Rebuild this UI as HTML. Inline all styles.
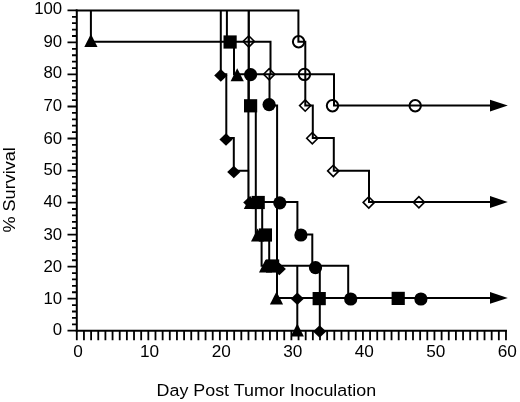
<!DOCTYPE html>
<html><head><meta charset="utf-8"><title>Survival</title>
<style>
html,body{margin:0;padding:0;background:#fff;}
body{width:520px;height:402px;overflow:hidden;font-family:"Liberation Sans",sans-serif;}
svg{display:block;will-change:transform;}
</style></head><body>
<svg width="520" height="402" viewBox="0 0 520 402">
<g font-family="Liberation Sans, sans-serif" font-size="16.8" fill="#000">
<text x="62.2" y="334.5" text-anchor="end">0</text>
<text x="62.2" y="303.7" text-anchor="end">10</text>
<text x="62.2" y="271.5" text-anchor="end">20</text>
<text x="62.2" y="239.7" text-anchor="end">30</text>
<text x="62.2" y="207.0" text-anchor="end">40</text>
<text x="62.2" y="175.1" text-anchor="end">50</text>
<text x="62.2" y="144.1" text-anchor="end">60</text>
<text x="62.2" y="110.7" text-anchor="end">70</text>
<text x="62.2" y="77.8" text-anchor="end">80</text>
<text x="62.2" y="46.8" text-anchor="end">90</text>
<text x="62.2" y="13.6" text-anchor="end">100</text>
<text x="78.1" y="356.8" font-size="17.2" text-anchor="middle">0</text>
<text x="149.6" y="356.8" font-size="17.2" text-anchor="middle">10</text>
<text x="221.2" y="356.8" font-size="17.2" text-anchor="middle">20</text>
<text x="292.7" y="356.8" font-size="17.2" text-anchor="middle">30</text>
<text x="364.2" y="356.8" font-size="17.2" text-anchor="middle">40</text>
<text x="435.8" y="356.8" font-size="17.2" text-anchor="middle">50</text>
<text x="507.3" y="356.8" font-size="17.2" text-anchor="middle">60</text>
<text x="156.6" y="396.4" font-size="17.2" textLength="219.5" lengthAdjust="spacingAndGlyphs">Day Post Tumor Inoculation</text>
<text transform="translate(15.3 232.6) rotate(-90)" x="0" y="0" font-size="17" textLength="85.5" lengthAdjust="spacingAndGlyphs">% Survival</text>
</g>
<line x1="76.8" y1="9.4" x2="76.8" y2="331.7" stroke="#000" stroke-width="2.0"/>
<line x1="75.8" y1="330.7" x2="506.97999999999996" y2="330.7" stroke="#000" stroke-width="2.0"/>
<path d="M67.5 330.70H76.8M72.0 324.29H76.8M72.0 317.89H76.8M72.0 311.48H76.8M72.0 305.08H76.8M67.5 298.67H76.8M72.0 292.26H76.8M72.0 285.86H76.8M72.0 279.45H76.8M72.0 273.05H76.8M67.5 266.64H76.8M72.0 260.23H76.8M72.0 253.83H76.8M72.0 247.42H76.8M72.0 241.02H76.8M67.5 234.61H76.8M72.0 228.20H76.8M72.0 221.80H76.8M72.0 215.39H76.8M72.0 208.99H76.8M67.5 202.58H76.8M72.0 196.17H76.8M72.0 189.77H76.8M72.0 183.36H76.8M72.0 176.96H76.8M67.5 170.55H76.8M72.0 164.14H76.8M72.0 157.74H76.8M72.0 151.33H76.8M72.0 144.93H76.8M67.5 138.52H76.8M72.0 132.11H76.8M72.0 125.71H76.8M72.0 119.30H76.8M72.0 112.90H76.8M67.5 106.49H76.8M72.0 100.08H76.8M72.0 93.68H76.8M72.0 87.27H76.8M72.0 80.87H76.8M67.5 74.46H76.8M72.0 68.05H76.8M72.0 61.65H76.8M72.0 55.24H76.8M72.0 48.84H76.8M67.5 42.43H76.8M72.0 36.02H76.8M72.0 29.62H76.8M72.0 23.21H76.8M72.0 16.81H76.8M67.5 10.40H76.8M76.80 330.7V340.3M83.95 330.7V340.3M91.11 330.7V340.3M98.26 330.7V340.3M105.41 330.7V340.3M112.56 330.7V340.3M119.72 330.7V340.3M126.87 330.7V340.3M134.02 330.7V340.3M141.18 330.7V340.3M148.33 330.7V340.3M155.48 330.7V340.3M162.64 330.7V340.3M169.79 330.7V340.3M176.94 330.7V340.3M184.09 330.7V340.3M191.25 330.7V340.3M198.40 330.7V340.3M205.55 330.7V340.3M212.71 330.7V340.3M219.86 330.7V340.3M227.01 330.7V340.3M234.17 330.7V340.3M241.32 330.7V340.3M248.47 330.7V340.3M255.62 330.7V340.3M262.78 330.7V340.3M269.93 330.7V340.3M277.08 330.7V340.3M284.24 330.7V340.3M291.39 330.7V340.3M298.54 330.7V340.3M305.70 330.7V340.3M312.85 330.7V340.3M320.00 330.7V340.3M327.15 330.7V340.3M334.31 330.7V340.3M341.46 330.7V340.3M348.61 330.7V340.3M355.77 330.7V340.3M362.92 330.7V340.3M370.07 330.7V340.3M377.23 330.7V340.3M384.38 330.7V340.3M391.53 330.7V340.3M398.69 330.7V340.3M405.84 330.7V340.3M412.99 330.7V340.3M420.14 330.7V340.3M427.30 330.7V340.3M434.45 330.7V340.3M441.60 330.7V340.3M448.76 330.7V340.3M455.91 330.7V340.3M463.06 330.7V340.3M470.21 330.7V340.3M477.37 330.7V340.3M484.52 330.7V340.3M491.67 330.7V340.3M498.83 330.7V340.3M505.98 330.7V340.3" stroke="#000" stroke-width="1.8" fill="none"/>
<path d="M76.8 10.4L298.4 10.4L298.4 41.7L305.3 41.7L305.3 74.2L334 74.2L334 105.6L492 105.6M76.8 10.4L248.9 10.4L248.9 41.7L270.5 41.7L270.5 74.2L305.3 74.2L305.3 105.6L312.8 105.6L312.8 138.0L333.8 138.0L333.8 170.8L369 170.8L369 202.0L492 202.0M76.8 10.4L90.9 10.4L90.9 41.7L234 41.7L234 74.2L248.4 74.2L248.4 202.0L255.8 202.0L255.8 234.4L261.6 234.4L261.6 265.7L277 265.7L277 297.9L297.3 297.9L297.3 330.7M76.8 10.4L226.9 10.4L226.9 41.7L248.9 41.7L248.9 105.6L255.8 105.6L255.8 202.0L262.2 202.0L262.2 234.4L269.2 234.4L269.2 265.7L319.8 265.7L319.8 297.9L492 297.9M76.8 10.4L248.6 10.4L248.6 74.2L269.5 74.2L269.5 105.6L277.1 105.6L277.1 202.0L297.4 202.0L297.4 234.4L312.3 234.4L312.3 265.7L348.2 265.7L348.2 297.9L492 297.9M76.8 10.4L220.8 10.4L220.8 74.2L226.3 74.2L226.3 138.0L233.8 138.0L233.8 170.8L248.5 170.8L248.5 202.0L277 202.0L277 265.7L297.3 265.7L297.3 297.9L319.8 297.9L319.8 330.7" stroke="#000" stroke-width="2.0" fill="none" stroke-linejoin="miter" stroke-linecap="square"/>
<path d="M490 99.69999999999999L507.8 105.6L490 111.5Z" fill="#000"/>
<path d="M490 196.1L507.8 202.0L490 207.9Z" fill="#000"/>
<path d="M490 292.0L507.8 297.9L490 303.79999999999995Z" fill="#000"/>
<circle cx="298.6" cy="41.8" r="5.7" fill="none" stroke="#000" stroke-width="2"/>
<circle cx="304.4" cy="74.4" r="5.7" fill="none" stroke="#000" stroke-width="2"/>
<circle cx="332.5" cy="105.8" r="5.7" fill="none" stroke="#000" stroke-width="2"/>
<circle cx="415.2" cy="105.7" r="5.7" fill="none" stroke="#000" stroke-width="2"/>
<path d="M243.20000000000002 41.4L248.8 35.8L254.4 41.4L248.8 47.0Z" fill="none" stroke="#000" stroke-width="1.6"/>
<path d="M263.59999999999997 74.3L269.2 68.7L274.8 74.3L269.2 79.89999999999999Z" fill="none" stroke="#000" stroke-width="1.6"/>
<path d="M299.59999999999997 105.6L305.2 100.0L310.8 105.6L305.2 111.19999999999999Z" fill="none" stroke="#000" stroke-width="1.6"/>
<path d="M306.7 138.3L312.3 132.70000000000002L317.90000000000003 138.3L312.3 143.9Z" fill="none" stroke="#000" stroke-width="1.6"/>
<path d="M327.7 170.9L333.3 165.3L338.90000000000003 170.9L333.3 176.5Z" fill="none" stroke="#000" stroke-width="1.6"/>
<path d="M363.2 202.4L368.8 196.8L374.40000000000003 202.4L368.8 208.0Z" fill="none" stroke="#000" stroke-width="1.6"/>
<path d="M413.29999999999995 202.3L418.9 196.70000000000002L424.5 202.3L418.9 207.9Z" fill="none" stroke="#000" stroke-width="1.6"/>
<path d="M214.20000000000002 75.4L220.8 69.10000000000001L227.4 75.4L220.8 81.7Z" fill="#000"/>
<path d="M219.4 139.5L226.0 133.2L232.6 139.5L226.0 145.8Z" fill="#000"/>
<path d="M227.20000000000002 172.0L233.8 165.7L240.4 172.0L233.8 178.3Z" fill="#000"/>
<path d="M243.20000000000002 202.5L249.8 196.2L256.40000000000003 202.5L249.8 208.8Z" fill="#000"/>
<path d="M272.7 269.0L279.3 262.7L285.90000000000003 269.0L279.3 275.3Z" fill="#000"/>
<path d="M290.7 298.8L297.3 292.5L303.90000000000003 298.8L297.3 305.1Z" fill="#000"/>
<path d="M313.0 331.5L319.6 325.2L326.20000000000005 331.5L319.6 337.8Z" fill="#000"/>
<path d="M84.30000000000001 47.1L90.9 34.1L97.5 47.1Z" fill="#000"/>
<path d="M230.6 81.3L237.2 68.3L243.79999999999998 81.3Z" fill="#000"/>
<path d="M243.8 209.0L250.4 196.0L257.0 209.0Z" fill="#000"/>
<path d="M251.00000000000003 241.5L257.6 228.5L264.20000000000005 241.5Z" fill="#000"/>
<path d="M259.0 272.5L265.6 259.5L272.20000000000005 272.5Z" fill="#000"/>
<path d="M269.9 304.5L276.5 291.5L283.1 304.5Z" fill="#000"/>
<path d="M290.7 336.6L297.3 323.6L303.90000000000003 336.6Z" fill="#000"/>
<rect x="223.5" y="35.4" width="13.2" height="13.2" fill="#000"/>
<rect x="244.0" y="99.2" width="13.2" height="13.2" fill="#000"/>
<rect x="251.6" y="195.9" width="13.2" height="13.2" fill="#000"/>
<rect x="258.79999999999995" y="228.4" width="13.2" height="13.2" fill="#000"/>
<rect x="266.0" y="259.4" width="13.2" height="13.2" fill="#000"/>
<rect x="312.59999999999997" y="292.0" width="13.2" height="13.2" fill="#000"/>
<rect x="391.59999999999997" y="291.79999999999995" width="13.2" height="13.2" fill="#000"/>
<circle cx="250.6" cy="74.7" r="6.6" fill="#000"/>
<circle cx="269.1" cy="104.6" r="6.6" fill="#000"/>
<circle cx="279.8" cy="202.8" r="6.6" fill="#000"/>
<circle cx="300.9" cy="235.0" r="6.6" fill="#000"/>
<circle cx="315.5" cy="267.7" r="6.6" fill="#000"/>
<circle cx="350.7" cy="299.0" r="6.6" fill="#000"/>
<circle cx="420.9" cy="299.0" r="6.6" fill="#000"/>
</svg>
</body></html>
